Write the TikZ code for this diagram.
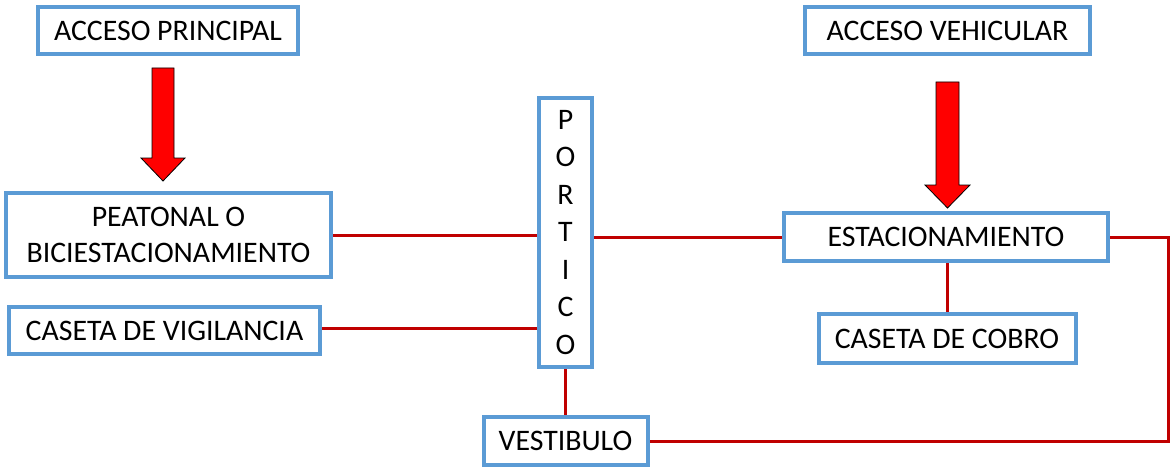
\documentclass[tikz,border=0pt]{standalone}
\usepackage{fontspec}
\setmainfont{Carlito}
\definecolor{boxblue}{HTML}{5B9BD5}
\definecolor{linered}{HTML}{C00000}
\definecolor{arrowred}{HTML}{FF0000}
\begin{document}
\begin{tikzpicture}[x=1pt,y=-1pt,
  box/.style={draw=boxblue,line width=4pt,fill=white,inner sep=0pt,align=center,
    font=\fontsize{29.8}{36}\selectfont},
  conn/.style={draw=linered,line width=3pt},
  blockarrow/.style={fill=arrowred,draw=black,line width=0.8pt,line join=miter}]
\useasboundingbox (0,0) rectangle (1172,468);
\node[box,minimum width=260pt,minimum height=47pt] (ap) at (168,30.5) {ACCESO PRINCIPAL};
\node[box,minimum width=285pt,minimum height=47pt] (av) at (947.5,30.5) {ACCESO VEHICULAR};
\node[box,minimum width=325pt,minimum height=84pt] (pe) at (168.5,235) {PEATONAL O\\BICIESTACIONAMIENTO};
\node[box,minimum width=311pt,minimum height=47pt] (cv) at (164.5,330.5) {CASETA DE VIGILANCIA};
\node[box,minimum width=53pt,minimum height=269pt,font=\fontsize{29.8}{37.5}\selectfont] (por) at (565.5,232.5) {P\\O\\R\\T\\I\\C\\O};
\node[box,minimum width=164pt,minimum height=48pt] (vest) at (565.5,441) {VESTIBULO};
\node[box,minimum width=324pt,minimum height=48pt] (est) at (946,237) {ESTACIONAMIENTO};
\node[box,minimum width=257pt,minimum height=49pt] (cc) at (947,338.5) {CASETA DE COBRO};
\coordinate (rc) at (1168,441);
% connectors
\draw[conn] (pe.east) -- (pe.east -| por.west);
\draw[conn] (cv.east |- 0,328) -- (por.west |- 0,328);
\draw[conn] (por.east |- est.west) -- (est.west);
\draw[conn] (por.south) -- (vest.north);
\draw[conn] (cc.north |- est.south) -- (cc.north);
\draw[conn,line join=miter] (est.east) -| (rc) -- (vest.east);
% block arrows
\draw[blockarrow] (152,68) -- (174,68) -- (174,158) -- (185,158) -- (163,181) -- (141,158) -- (152,158) -- cycle;
\draw[blockarrow] (936,82) -- (959,82) -- (959,185) -- (970,185) -- (947.5,208) -- (925,185) -- (936,185) -- cycle;
\end{tikzpicture}
\end{document}
